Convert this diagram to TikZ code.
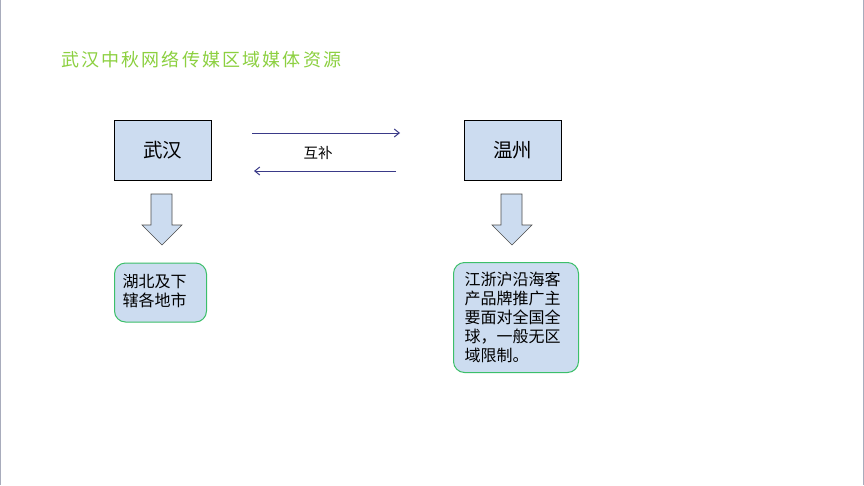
\documentclass[tikz,border=0pt]{standalone}
\usepackage{fontspec}
\newfontfamily\cjk{Noto Sans CJK SC}
\newfontfamily\cjktitle[LetterSpace=12]{Noto Sans CJK SC}
\usetikzlibrary{arrows.meta}
\definecolor{boxfill}{HTML}{CCDCF0}
\definecolor{titlegreen}{HTML}{8CD040}
\definecolor{linkblue}{HTML}{3A3A88}
\definecolor{roundgreen}{HTML}{3CBF6A}
\definecolor{edgegray}{HTML}{A8ACBC}
\tikzset{
  citybox/.style={draw=black, line width=0.8pt, fill=boxfill, minimum width=97pt, minimum height=60pt, inner sep=0pt, font=\cjk\fontsize{19.5}{22}\selectfont},
  notebox/.style={draw=roundgreen, line width=1pt, fill=boxfill, rounded corners=11pt, inner sep=0pt},
  notetext/.style={anchor=north west, font=\cjk\fontsize{16}{19}\selectfont, inner sep=0pt, align=left},
  link/.style={draw=linkblue, line width=1pt, -{Straight Barb[length=5pt,width=8pt]}},
  blockarrow/.style={draw=black!70, line width=0.6pt, fill=boxfill}
}
\begin{document}
\begin{tikzpicture}[x=1pt,y=-1pt]
\useasboundingbox (0,0) rectangle (864,485);
\fill[white] (0,0) rectangle (864,485);
\draw[edgegray, line width=1.2pt] (0.6,0) -- (0.6,485);
\draw[edgegray, line width=1.2pt] (863.4,0) -- (863.4,485);

\node[anchor=west, text=titlegreen, font=\cjktitle\fontsize{18}{20}\selectfont, inner sep=0pt] (title) at (61,60) {武汉中秋网络传媒区域媒体资源};

\node[citybox] (wh) at (162.5,150) {武汉};
\node[citybox] (wz) at (512.5,150) {温州};

\coordinate (a1s) at (252,133);
\coordinate (a1e) at (400,133);
\coordinate (a2s) at (396,171);
\coordinate (a2e) at (254,171);
\draw[link] (a1s) -- (a1e);
\draw[link] (a2s) -- (a2e);
\node[font=\cjk\fontsize{14.5}{16}\selectfont, inner sep=0pt] (hb) at (318,153) {互补};

% block arrows
\draw[blockarrow] (151,194) -- (172,194) -- (172,225) -- (182,225) -- (162,245) -- (142,225) -- (151,225) -- cycle;
\draw[blockarrow] (501,194) -- (522,194) -- (522,225) -- (532,225) -- (512,245) -- (492,225) -- (501,225) -- cycle;

\node[notebox, minimum width=92pt, minimum height=59pt, anchor=north west] (n1) at (114,262.5) {};
\node[notetext] (t1) at (122.5,274) {湖北及下\\辖各地市};

\node[notebox, minimum width=125pt, minimum height=110pt, anchor=north west] (n2) at (453,262) {};
\node[notetext] (t2) at (464.5,271.5) {江浙沪沿海客\\产品牌推广主\\要面对全国全\\球，一般无区\\域限制。};
\end{tikzpicture}
\end{document}
